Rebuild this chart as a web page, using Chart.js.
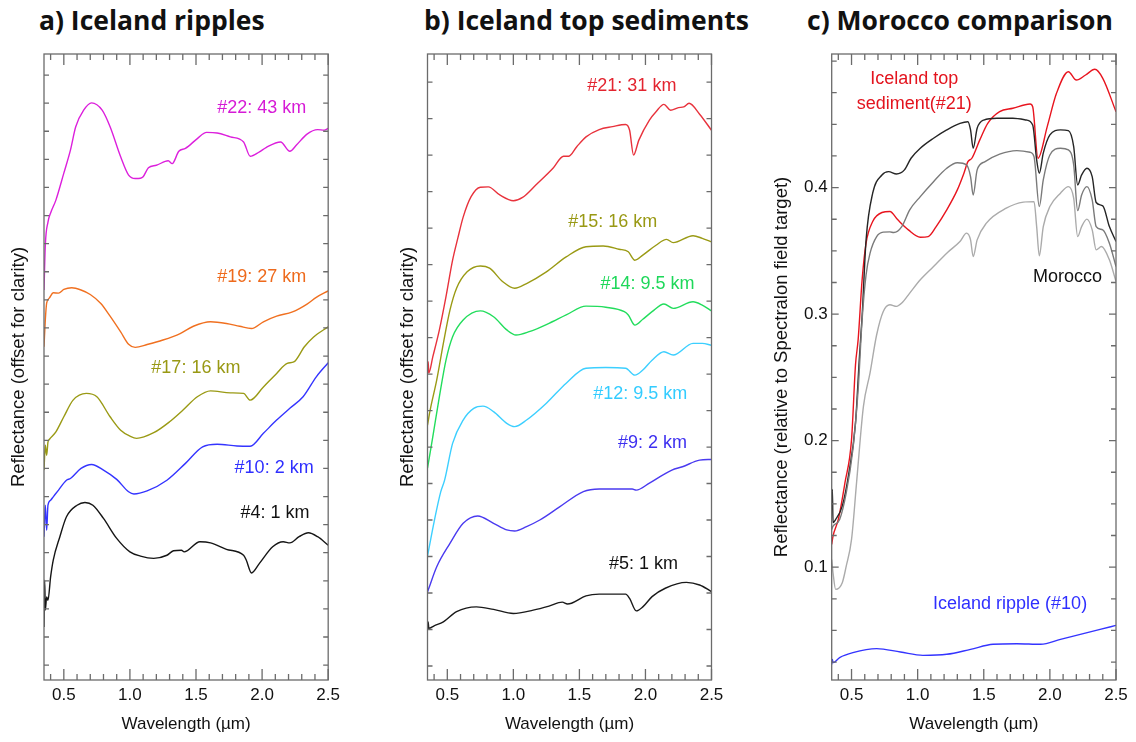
<!DOCTYPE html>
<html><head><meta charset="utf-8">
<script src="https://cdn.jsdelivr.net/npm/chart.js@4.4.0/dist/chart.umd.min.js"></script>
<style>
body{margin:0;background:#fff;width:1136px;height:742px;position:relative;overflow:hidden;}
canvas{position:absolute;top:0}
.ttl{position:absolute;top:0px;line-height:40px;font-family:"Open Sans",sans-serif;font-weight:700;font-size:26.5px;color:#111;white-space:nowrap;}
</style></head><body>
<div class="ttl" style="left:39px">a) Iceland ripples</div>
<div class="ttl" style="left:424px">b) Iceland top sediments</div>
<div class="ttl" style="left:807px">c) Morocco comparison</div>
<canvas id="ca" width="345" height="742" style="left:0"></canvas>
<canvas id="cb" width="345" height="742" style="left:385px"></canvas>
<canvas id="cc" width="376" height="742" style="left:760px"></canvas>
<script>
// ---------- tick values ----------
const xTicks = [0.4,0.5,0.6,0.7,0.8,0.9,1.0,1.1,1.2,1.3,1.4,1.5,1.6,1.7,1.8,1.9,2.0,2.1,2.2,2.3,2.4,2.5];
const xTickLabels = ['0.5','1.0','1.5','2.0','2.5'];
const aYTicks = [0,1,2,3,4,5,6,7,8,9,10,11,12,13,14,15,16,17,18,19,20,21];
const bYTicks = [0,1,2,3,4,5,6,7,8,9,10,11,12,13,14,15,16];
const cYTicks = [0.025,0.05,0.075,0.1,0.125,0.15,0.175,0.2,0.225,0.25,0.275,0.3,0.325,0.35,0.375,0.4,0.425,0.45,0.475,0.5];
const cYTickLabels = ['0.1','0.2','0.3','0.4'];

// ---------- a) Iceland ripples (offset units) ----------
const a22_wl = [0.35,0.36,0.38,0.40,0.44,0.50,0.55,0.59,0.65,0.71,0.79,0.85,0.93,0.99,1.04,1.08,1.10,1.14,1.20,1.29,1.32,1.37,1.42,1.51,1.58,1.66,1.76,1.86,1.91,1.98,2.03,2.14,2.21,2.26,2.34,2.42,2.47,2.50];
const a22_r  = [13.35,14.95,15.77,16.09,16.55,17.51,18.33,19.16,19.75,20.01,19.75,19.16,18.09,17.44,17.32,17.33,17.38,17.70,17.79,17.95,17.85,18.29,18.39,18.74,18.96,18.94,18.80,18.62,18.11,18.27,18.42,18.62,18.29,18.51,18.90,19.06,19.04,19.10];
const a19_wl = [0.35,0.36,0.37,0.39,0.42,0.46,0.50,0.56,0.63,0.70,0.78,0.85,0.93,0.99,1.04,1.13,1.25,1.38,1.48,1.61,1.73,1.83,1.92,2.01,2.11,2.23,2.34,2.41,2.50];
const a19_r  = [11.33,12.28,12.88,13.06,13.25,13.24,13.37,13.43,13.35,13.19,12.87,12.42,11.86,11.42,11.31,11.41,11.57,11.80,12.06,12.22,12.16,12.06,11.98,12.22,12.42,12.57,12.85,13.09,13.32];
const a17_wl = [0.35,0.36,0.37,0.38,0.39,0.44,0.50,0.57,0.67,0.75,0.85,0.93,1.00,1.05,1.18,1.30,1.40,1.51,1.61,1.76,1.86,1.91,2.01,2.11,2.19,2.24,2.32,2.39,2.50];
const a17_r  = [6.94,7.83,7.47,7.94,8.03,8.30,8.84,9.43,9.67,9.55,8.84,8.36,8.15,8.07,8.27,8.66,9.07,9.55,9.76,9.69,9.67,9.43,9.90,10.38,10.74,10.79,11.33,11.68,12.04];
const a10_wl = [0.35,0.36,0.37,0.38,0.40,0.42,0.46,0.52,0.55,0.63,0.71,0.80,0.90,0.99,1.03,1.13,1.28,1.42,1.55,1.66,1.81,1.91,2.01,2.11,2.21,2.31,2.41,2.50];
const a10_r  = [4.57,5.69,4.80,5.69,5.87,5.99,6.23,6.58,6.64,7.00,7.14,6.94,6.61,6.17,6.09,6.20,6.58,7.18,7.77,7.86,7.80,7.79,8.25,8.72,9.14,9.55,10.26,10.76];
const a4_wl  = [0.35,0.355,0.36,0.37,0.38,0.40,0.42,0.47,0.52,0.60,0.66,0.72,0.80,0.90,1.00,1.08,1.18,1.28,1.33,1.39,1.41,1.53,1.61,1.73,1.86,1.88,1.92,1.98,2.08,2.16,2.21,2.28,2.35,2.42,2.50];
const a4_r   = [1.36,3.02,1.96,2.43,2.31,3.14,3.74,4.57,5.28,5.69,5.79,5.69,5.22,4.51,4.03,3.88,3.80,3.91,4.07,4.09,4.03,4.39,4.35,4.12,3.91,3.74,3.28,3.62,4.21,4.39,4.35,4.57,4.71,4.57,4.27];

// ---------- b) Iceland top sediments (offset units) ----------
const b21_wl = [0.35,0.355,0.36,0.39,0.44,0.49,0.54,0.58,0.62,0.68,0.75,0.81,0.90,1.00,1.07,1.17,1.30,1.38,1.42,1.48,1.55,1.65,1.75,1.85,1.88,1.91,1.95,2.03,2.08,2.14,2.19,2.25,2.29,2.33,2.41,2.50];
const b21_r  = [8.02,8.34,8.03,8.47,9.21,10.12,11.12,11.73,12.30,12.86,13.12,13.13,12.90,12.75,12.84,13.18,13.64,13.97,13.97,14.23,14.50,14.70,14.78,14.84,14.68,14.00,14.41,14.96,15.19,15.39,15.23,15.30,15.32,15.42,15.12,14.68];
const b15_wl = [0.35,0.37,0.42,0.47,0.52,0.57,0.65,0.75,0.82,0.92,1.01,1.10,1.25,1.40,1.55,1.68,1.80,1.87,1.92,1.98,2.08,2.16,2.21,2.36,2.43,2.50];
const b15_r  = [6.60,7.01,7.84,8.84,9.75,10.35,10.80,10.96,10.90,10.53,10.35,10.48,10.80,11.21,11.49,11.51,11.42,11.35,11.12,11.26,11.53,11.69,11.60,11.79,11.72,11.62];
const b14_wl = [0.35,0.39,0.44,0.49,0.54,0.62,0.75,0.85,0.95,1.02,1.12,1.27,1.40,1.55,1.70,1.84,1.87,1.92,1.98,2.05,2.14,2.21,2.36,2.43,2.50];
const b14_r  = [5.42,6.28,7.38,8.38,9.02,9.48,9.73,9.57,9.21,9.07,9.16,9.39,9.62,9.86,9.83,9.71,9.62,9.34,9.50,9.71,9.92,9.80,9.98,9.89,9.73];
const b12_wl = [0.35,0.40,0.45,0.48,0.54,0.62,0.70,0.77,0.85,0.95,1.01,1.10,1.25,1.40,1.55,1.70,1.85,1.92,1.98,2.05,2.14,2.21,2.36,2.43,2.50];
const b12_r  = [3.01,3.95,4.77,5.10,6.10,6.74,7.06,7.12,6.97,6.65,6.56,6.74,7.20,7.75,8.16,8.18,8.16,7.97,8.11,8.38,8.61,8.52,8.84,8.84,8.79];
const b9_wl  = [0.35,0.36,0.42,0.52,0.62,0.73,0.85,0.95,1.01,1.10,1.20,1.35,1.53,1.65,1.90,1.93,2.03,2.13,2.20,2.28,2.41,2.50];
const b9_r   = [2.03,2.13,2.72,3.36,3.91,4.11,3.91,3.73,3.70,3.82,4.00,4.36,4.78,4.85,4.85,4.82,5.01,5.23,5.37,5.46,5.64,5.66];
const b5_wl  = [0.35,0.355,0.36,0.40,0.47,0.57,0.72,0.85,1.00,1.15,1.27,1.37,1.41,1.44,1.55,1.65,1.85,1.88,1.93,1.98,2.05,2.15,2.31,2.41,2.50];
const b5_r   = [0.99,1.21,1.03,1.10,1.21,1.49,1.62,1.55,1.44,1.53,1.64,1.75,1.70,1.72,1.92,1.97,1.97,1.85,1.51,1.62,1.90,2.13,2.29,2.22,2.04];

// ---------- c) Morocco comparison (reflectance) ----------
const c21_wl = [0.35,0.36,0.40,0.45,0.50,0.53,0.55,0.58,0.61,0.66,0.73,0.79,0.85,0.93,1.02,1.08,1.14,1.22,1.30,1.35,1.38,1.41,1.47,1.53,1.62,1.72,1.85,1.87,1.91,1.98,2.05,2.14,2.20,2.27,2.34,2.40,2.50];
const c21_r  = [0.118,0.1245,0.1377,0.1666,0.2008,0.260,0.2798,0.3271,0.3561,0.3732,0.3803,0.3811,0.3745,0.3666,0.3608,0.3613,0.3692,0.3824,0.3982,0.4114,0.4205,0.4232,0.4377,0.4508,0.4600,0.4627,0.4661,0.4639,0.4232,0.4482,0.4745,0.4916,0.4850,0.4890,0.4935,0.4864,0.4600];
const cMa_wl = [0.35,0.355,0.36,0.38,0.43,0.48,0.53,0.56,0.58,0.61,0.66,0.73,0.78,0.84,0.90,0.95,1.02,1.12,1.22,1.32,1.38,1.40,1.42,1.45,1.50,1.60,1.72,1.82,1.87,1.90,1.92,1.95,2.00,2.08,2.14,2.18,2.21,2.24,2.28,2.32,2.35,2.40,2.45,2.50];
const cMa_r  = [0.1456,0.1614,0.1353,0.1377,0.1482,0.1745,0.2140,0.2666,0.2982,0.3587,0.3956,0.4100,0.4126,0.4108,0.4140,0.4232,0.4311,0.4390,0.4456,0.4508,0.4521,0.4456,0.4311,0.4469,0.4534,0.4548,0.4548,0.4534,0.4495,0.4219,0.4114,0.4272,0.4416,0.4456,0.4450,0.4324,0.4021,0.4100,0.4153,0.4087,0.3882,0.3856,0.3692,0.3574];
const cMb_wl = [0.35,0.36,0.41,0.46,0.51,0.55,0.58,0.61,0.64,0.69,0.74,0.79,0.82,0.88,0.94,1.02,1.12,1.22,1.30,1.37,1.40,1.42,1.45,1.51,1.62,1.75,1.85,1.88,1.92,1.95,2.00,2.08,2.14,2.18,2.21,2.24,2.28,2.32,2.35,2.40,2.45,2.50];
const cMb_r  = [0.1298,0.1324,0.1377,0.1587,0.1929,0.2403,0.2956,0.3311,0.3482,0.3613,0.3648,0.3650,0.3645,0.3692,0.3824,0.3929,0.4047,0.4153,0.4197,0.4179,0.4087,0.3942,0.4140,0.4205,0.4264,0.4292,0.4279,0.4245,0.3850,0.4061,0.4258,0.4311,0.4298,0.4179,0.3818,0.3942,0.4008,0.3903,0.3692,0.3666,0.3561,0.3376];
const cMc_wl = [0.35,0.36,0.38,0.43,0.46,0.50,0.54,0.59,0.64,0.69,0.74,0.79,0.84,0.88,0.94,1.02,1.12,1.22,1.32,1.37,1.40,1.42,1.45,1.52,1.67,1.80,1.88,1.90,1.92,1.95,2.00,2.08,2.14,2.18,2.21,2.24,2.28,2.32,2.35,2.39,2.45,2.50];
const cMc_r  = [0.1060,0.0956,0.0824,0.0877,0.1008,0.1219,0.1692,0.2271,0.2535,0.2837,0.3021,0.3074,0.3061,0.3087,0.3166,0.3271,0.3376,0.3482,0.3574,0.3640,0.3587,0.3455,0.3587,0.3719,0.3837,0.3885,0.3889,0.3692,0.3461,0.3692,0.3850,0.3956,0.4008,0.3916,0.3613,0.3692,0.3751,0.3666,0.3508,0.3534,0.3429,0.3258];
const c10_wl = [0.35,0.355,0.36,0.41,0.51,0.69,0.87,1.04,1.22,1.40,1.57,1.75,1.93,2.08,2.23,2.38,2.50];
const c10_r  = [0.0232,0.0271,0.0245,0.0285,0.0324,0.0356,0.0329,0.0303,0.0311,0.0350,0.0390,0.0395,0.0390,0.0429,0.0469,0.0508,0.0540];

// ---------- curve labels (text, colour, data position) ----------
const aLabels = [
  {text:'#22: 43 km', color:'#d61ad6', x:1.997, y:19.81},
  {text:'#19: 27 km', color:'#ee6a1c', x:1.997, y:13.82},
  {text:'#17: 16 km', color:'#999914', x:1.499, y:10.59},
  {text:'#10: 2 km',  color:'#2f2fff', x:2.091, y:7.01},
  {text:'#4: 1 km',   color:'#111111', x:2.097, y:5.40}
];
const bLabels = [
  {text:'#21: 31 km',  color:'#e3242f', x:1.897, y:15.90},
  {text:'#15: 16 km',  color:'#999914', x:1.752, y:12.16},
  {text:'#14: 9.5 km', color:'#1ed85a', x:2.016, y:10.48},
  {text:'#12: 9.5 km', color:'#33ccff', x:1.960, y:7.45},
  {text:'#9: 2 km',    color:'#3d2ff0', x:2.054, y:6.10},
  {text:'#5: 1 km',    color:'#111111', x:1.985, y:2.79}
];
const cLabels = [
  {text:'Iceland top',   color:'#e3141e', x:0.974, y:0.4856},
  {text:'sediment(#21)', color:'#e3141e', x:0.974, y:0.4661},
  {text:'Morocco',       color:'#111111', x:2.134, y:0.3293},
  {text:'Iceland ripple (#10)', color:'#2f2fff', x:1.699, y:0.0706}
];

const FONT = '"Liberation Sans", Arial, sans-serif';
const pts = (wl, r) => wl.map((w, i) => ({x: w, y: r[i]}));
const ds = (wl, r, color, w) => ({data: pts(wl, r), borderColor: color, borderWidth: w || 1.4,
  pointRadius: 0, fill: false, cubicInterpolationMode: 'monotone'});

const framePlugin = {
  id: 'frame',
  afterDraw(chart, args, opts) {
    const {ctx, chartArea: a, scales: {x, y}} = chart;
    ctx.save();
    ctx.strokeStyle = '#6b6b6b';
    ctx.lineWidth = 1.3;
    ctx.strokeRect(a.left, a.top, a.right - a.left, a.bottom - a.top);
    ctx.beginPath();
    x.ticks.forEach(t => {
      const px = x.getPixelForValue(t.value);
      const major = Math.abs(t.value * 2 - Math.round(t.value * 2)) < 1e-6;
      const L = major ? 11 : 6;
      ctx.moveTo(px, a.bottom); ctx.lineTo(px, a.bottom - L);
      ctx.moveTo(px, a.top); ctx.lineTo(px, a.top + L);
    });
    y.ticks.forEach(t => {
      const py = y.getPixelForValue(t.value);
      if (py <= a.top + 1 || py >= a.bottom - 1) return;
      const L = (t.label && t.label !== '') ? 7 : 5;
      ctx.moveTo(a.left, py); ctx.lineTo(a.left + L, py);
      ctx.moveTo(a.right, py); ctx.lineTo(a.right - L, py);
    });
    ctx.stroke();
    ctx.font = '18px ' + FONT;
    ctx.textAlign = 'center';
    ctx.textBaseline = 'middle';
    (opts.labels || []).forEach(l => {
      ctx.fillStyle = l.color;
      ctx.fillText(l.text, x.getPixelForValue(l.x), y.getPixelForValue(l.y));
    });
    ctx.restore();
  }
};

function makeChart(id, datasets, cfg) {
  return new Chart(document.getElementById(id), {
    type: 'line',
    data: {datasets},
    plugins: [framePlugin],
    options: {
      responsive: false, animation: false, devicePixelRatio: 1,
      layout: {padding: {top: 54, right: cfg.padRight, bottom: 0, left: 0}},
      plugins: {legend: {display: false}, tooltip: {enabled: false}, frame: {labels: cfg.labels}},
      scales: {
        x: {
          type: 'linear', min: 0.35, max: 2.5,
          afterBuildTicks: s => { s.ticks = xTicks.map(v => ({value: v})); },
          afterFit: s => { s.height = 62; },
          grid: {display: false, drawTicks: false}, border: {display: false},
          ticks: {autoSkip: false, maxRotation: 0, minRotation: 0, padding: 5, color: '#111',
                  font: {size: 17, family: FONT},
                  callback: v => { const s = v.toFixed(1); return xTickLabels.includes(s) ? s : ''; }},
          title: {display: true, text: 'Wavelength (µm)', color: '#111', font: {size: 17, family: FONT},
                  padding: {top: 0, bottom: 7}}
        },
        y: {
          type: 'linear', min: cfg.yMin, max: cfg.yMax,
          afterBuildTicks: s => { s.ticks = cfg.yTicks.map(v => ({value: v})); },
          afterFit: s => { s.width = cfg.yWidth; },
          grid: {display: false, drawTicks: false}, border: {display: false},
          ticks: {display: cfg.yLabels, padding: 4, color: '#111', font: {size: 17, family: FONT},
                  callback: v => { const s = (+v).toFixed(1); return (cfg.yTickLabels && cfg.yTickLabels.includes(s) && Math.abs(v - +s) < 1e-6) ? s : ''; }},
          title: {display: true, text: cfg.yTitle, color: '#111', font: {size: 18.5, family: FONT},
                  padding: {top: cfg.yTitlePad, bottom: 0}}
        }
      }
    }
  });
}

makeChart('ca', [
  ds(a22_wl, a22_r, '#dc1fdc'),
  ds(a19_wl, a19_r, '#f07020'),
  ds(a17_wl, a17_r, '#9a9a14'),
  ds(a10_wl, a10_r, '#3434ff'),
  ds(a4_wl, a4_r, '#151515')
], {padRight: 16.5, yMin: -0.53, yMax: 21.75, yTicks: aYTicks, yWidth: 44, yLabels: false,
    yTitle: 'Reflectance (offset for clarity)', yTitlePad: 8, labels: aLabels});

makeChart('cb', [
  ds(b21_wl, b21_r, '#e8323c'),
  ds(b15_wl, b15_r, '#9a9a14'),
  ds(b14_wl, b14_r, '#22dd5c'),
  ds(b12_wl, b12_r, '#3ccfff'),
  ds(b9_wl, b9_r, '#4a3af0'),
  ds(b5_wl, b5_r, '#1a1a1a')
], {padRight: 18.5, yMin: -0.384, yMax: 16.77, yTicks: bYTicks, yWidth: 42.5, yLabels: false,
    yTitle: 'Reflectance (offset for clarity)', yTitlePad: 12, labels: bLabels});

makeChart('cc', [
  ds(cMc_wl, cMc_r, '#ababab'),
  ds(cMb_wl, cMb_r, '#7a7a7a'),
  ds(cMa_wl, cMa_r, '#252525'),
  ds(c21_wl, c21_r, '#e8141e'),
  ds(c10_wl, c10_r, '#3434ff')
], {padRight: 20, yMin: 0.0108, yMax: 0.5056, yTicks: cYTicks, yTickLabels: cYTickLabels, yWidth: 71.7, yLabels: true,
    yTitle: 'Reflectance (relative to Spectralon field target)', yTitlePad: 11, labels: cLabels});
</script>
</body></html>
